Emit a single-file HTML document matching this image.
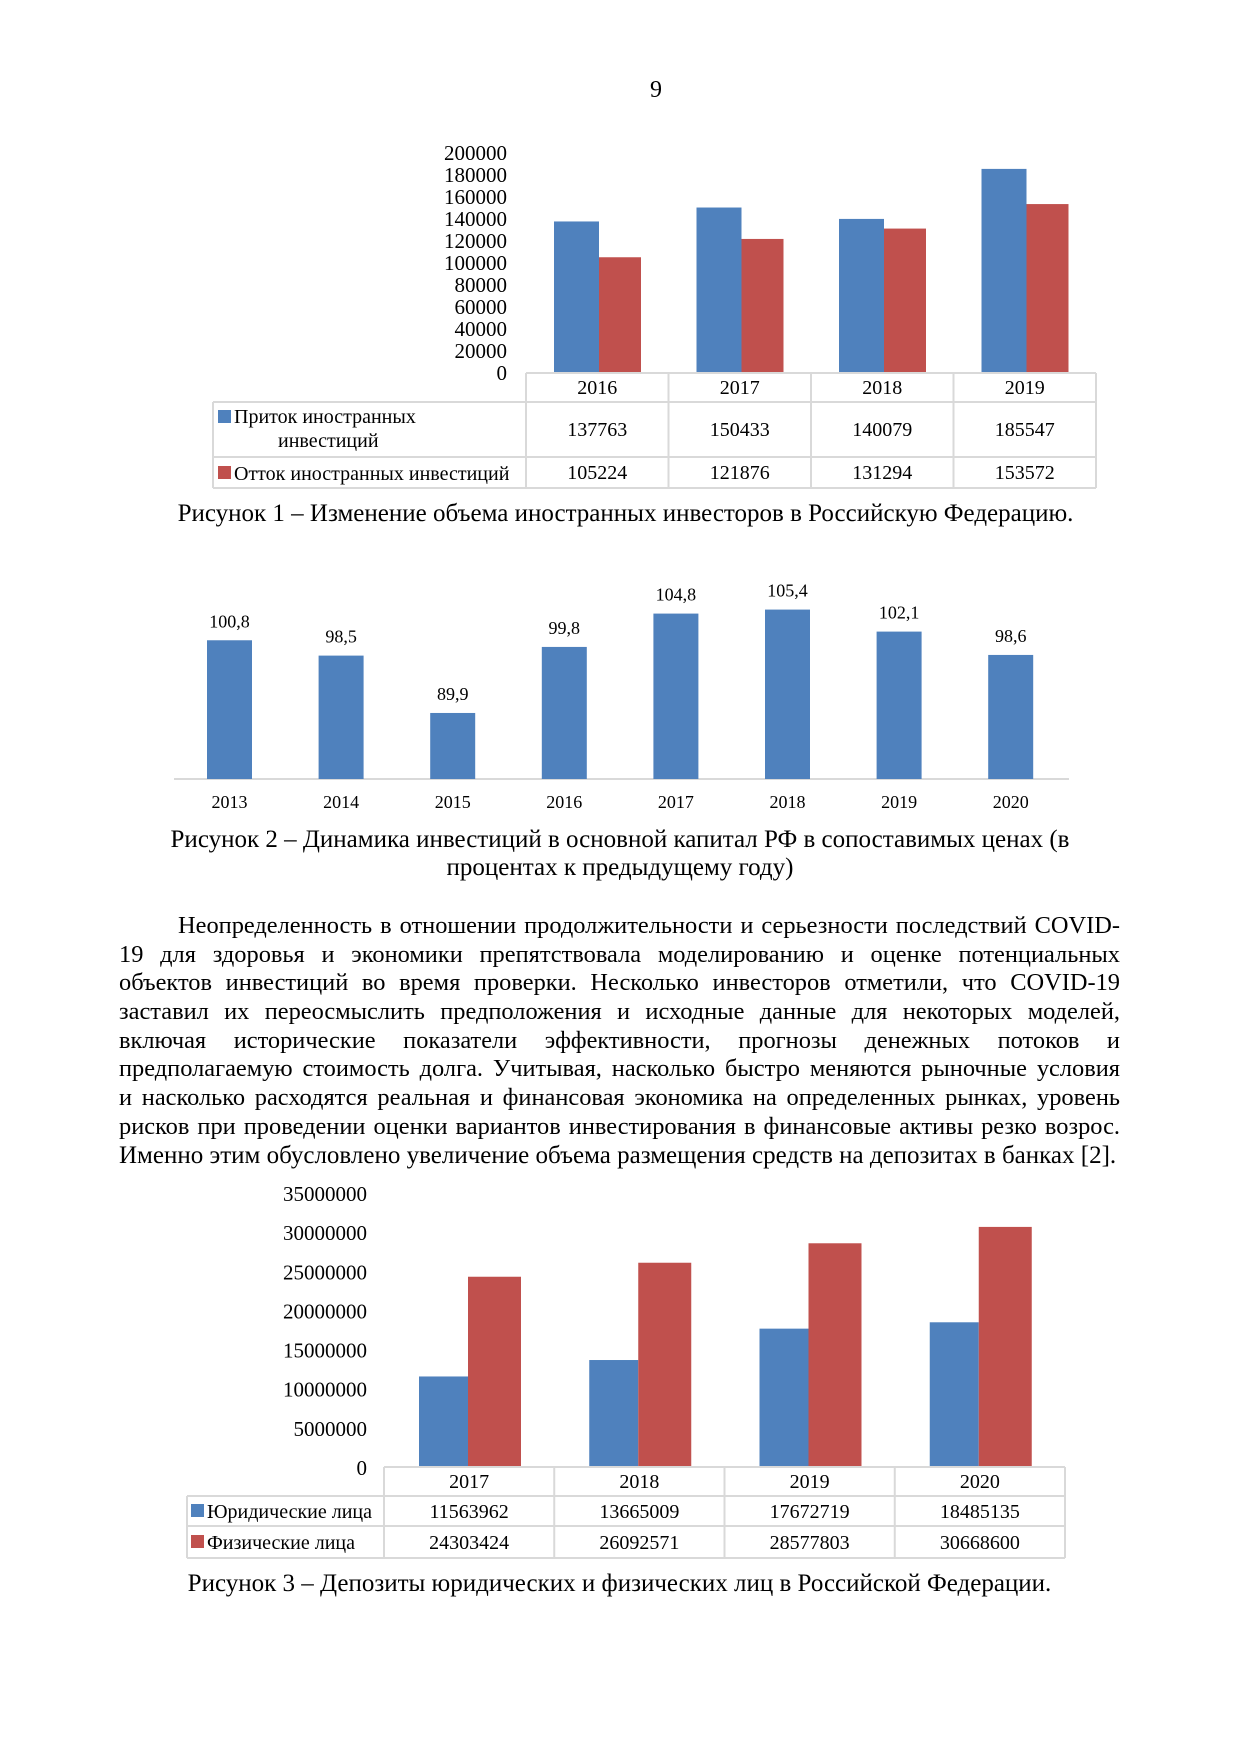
<!DOCTYPE html>
<html><head><meta charset="utf-8"><style>
body{margin:0;background:#fff;}
#page{position:relative;width:1241px;height:1754px;background:#fff;font-family:"Liberation Serif","Noto Serif CJK SC",serif;color:#000;overflow:hidden;}
.abs{position:absolute;}
#body-text{left:119px;top:912px;width:1001px;font-size:24.4px;line-height:28.7px;}
#body-text .ln{text-align:justify;text-align-last:justify;height:28.7px;overflow:visible;}
#body-text .last{text-align:left;text-align-last:left;font-size:25px;}
.cap{position:absolute;font-size:25px;text-align:center;white-space:nowrap;}
svg text{font-family:"Liberation Serif",serif;fill:#000;}
</style></head><body>
<div id="page">
<div class="abs" style="left:650px;top:77px;font-size:24px">9</div>
<svg id="chart1" class="abs" style="left:0;top:0" width="1241" height="1754"></svg>
<div class="cap" style="left:0;width:1251px;top:500px">Рисунок 1 – Изменение объема иностранных инвесторов в Российскую Федерацию.</div>
<div class="cap" style="left:0;width:1240px;top:826px;line-height:28px">Рисунок 2 – Динамика инвестиций в основной капитал РФ в сопоставимых ценах (в<br>процентах к предыдущему году)</div>
<div id="body-text" class="abs">
<div class="ln" style="padding-left:59px">Неопределенность в отношении продолжительности и серьезности последствий COVID-</div>
<div class="ln">19 для здоровья и экономики препятствовала моделированию и оценке потенциальных</div>
<div class="ln">объектов инвестиций во время проверки. Несколько инвесторов отметили, что COVID-19</div>
<div class="ln">заставил их переосмыслить предположения и исходные данные для некоторых моделей,</div>
<div class="ln">включая исторические показатели эффективности, прогнозы денежных потоков и</div>
<div class="ln">предполагаемую стоимость долга. Учитывая, насколько быстро меняются рыночные условия</div>
<div class="ln">и насколько расходятся реальная и финансовая экономика на определенных рынках, уровень</div>
<div class="ln">рисков при проведении оценки вариантов инвестирования в финансовые активы резко возрос.</div>
<div class="ln last">Именно этим обусловлено увеличение объема размещения средств на депозитах в банках [2].</div>
</div>
<div class="cap" style="left:0;width:1239px;top:1570px">Рисунок 3 – Депозиты юридических и физических лиц в Российской Федерации.</div>
</div>
<script>
const c1Years=["2016","2017","2018","2019"];
const c1Inflow=[137763,150433,140079,185547];
const c1Outflow=[105224,121876,131294,153572];
const c1Ticks=[0,20000,40000,60000,80000,100000,120000,140000,160000,180000,200000];
const c2Years=["2013","2014","2015","2016","2017","2018","2019","2020"];
const c2Values=[100.8,98.5,89.9,99.8,104.8,105.4,102.1,98.6];
const c3Years=["2017","2018","2019","2020"];
const c3Legal=[11563962,13665009,17672719,18485135];
const c3Physical=[24303424,26092571,28577803,30668600];
const c3Ticks=[0,5000000,10000000,15000000,20000000,25000000,30000000,35000000];
const BLUE="#4f81bd",RED="#c0504d",GRID="#d9d9d9";
const svg=document.getElementById('chart1');
const NS="http://www.w3.org/2000/svg";
function mk(tag,attrs,name,parent){const e=document.createElementNS(NS,tag);for(const k in attrs)e.setAttribute(k,attrs[k]);


(parent||svg).appendChild(e);return e;}
function txt(x,y,s,size,anchor,name){const t=mk('text',{x:x,y:y,'font-size':size,'text-anchor':anchor||'middle'},name);t.textContent=s;return t;}
function fmt(v){return String(v).replace('.',',');}

// Chart 1
(function(){
 const base=373,top=153,max=200000,left=526,right=1096,colW=(right-left)/4;
 const y=v=>base-(v/max)*(base-top);
 c1Ticks.forEach(t=>txt(507,y(t)+7,String(t),21,'end','y-tick-label'));
 c1Years.forEach((yr,i)=>{
  const x0=left+i*colW;
  mk('rect',{x:x0+28,y:y(c1Inflow[i]),width:45,height:base-y(c1Inflow[i]),fill:BLUE},'bar-inflow-'+yr);
  mk('rect',{x:x0+73,y:y(c1Outflow[i]),width:42,height:base-y(c1Outflow[i]),fill:RED},'bar-outflow-'+yr);
  txt(x0+colW/2,394,yr,20,'middle','year-header');
  txt(x0+colW/2,436,String(c1Inflow[i]),20,'middle','inflow-value');
  txt(x0+colW/2,479,String(c1Outflow[i]),20,'middle','outflow-value');
 });
 const g={stroke:GRID,'stroke-width':2,fill:'none'};
 mk('line',Object.assign({x1:left,y1:373,x2:right,y2:373},g),'table-line');
 [402,457,488].forEach(yy=>mk('line',Object.assign({x1:213,y1:yy,x2:right,y2:yy},g),'table-line'));
 for(let i=0;i<=4;i++)mk('line',Object.assign({x1:left+i*colW,y1:373,x2:left+i*colW,y2:488},g),'table-line');
 mk('line',Object.assign({x1:213,y1:402,x2:213,y2:488},g),'table-line');
 mk('rect',{x:218,y:410,width:13,height:13,fill:BLUE},'legend-inflow-swatch');
 txt(234,423,'Приток иностранных',20,'start','legend-inflow');
 txt(278,447,'инвестиций',20,'start','legend-inflow-2');
 mk('rect',{x:218,y:466,width:13,height:13,fill:RED},'legend-outflow-swatch');
 txt(234,480,'Отток иностранных инвестиций',20,'start','legend-outflow');
})();

// Chart 2
(function(){
 const base=779,minV=80,pxPer=6.67,first=229.5,step=111.6,bw=45;
 const y=v=>base-(v-minV)*pxPer;
 mk('line',{x1:174,y1:base,x2:1069,y2:base,stroke:GRID,'stroke-width':2},'x-axis');
 c2Years.forEach((yr,i)=>{
  const cx=first+i*step;
  mk('rect',{x:cx-bw/2,y:y(c2Values[i]),width:bw,height:base-y(c2Values[i]),fill:BLUE},'bar-'+yr);
  txt(cx,y(c2Values[i])-13,fmt(c2Values[i]),18,'middle','value-label');
  txt(cx,808,yr,18,'middle','x-tick-label');
 });
})();

// Chart 3
(function(){
 const base=1467,top=1193,max=35000000,left=384,right=1065,colW=(right-left)/4;
 const y=v=>base-(v/max)*(base-top);
 c3Ticks.forEach(t=>txt(367,y(t)+8,String(t),21,'end','y-tick-label'));
 c3Years.forEach((yr,i)=>{
  const x0=left+i*colW;
  mk('rect',{x:x0+35,y:y(c3Legal[i]),width:49,height:base-y(c3Legal[i]),fill:BLUE},'bar-legal-'+yr);
  mk('rect',{x:x0+84,y:y(c3Physical[i]),width:53,height:base-y(c3Physical[i]),fill:RED},'bar-physical-'+yr);
  txt(x0+colW/2,1488,yr,20,'middle','year-header');
  txt(x0+colW/2,1518,String(c3Legal[i]),20,'middle','legal-value');
  txt(x0+colW/2,1549,String(c3Physical[i]),20,'middle','physical-value');
 });
 const g={stroke:GRID,'stroke-width':2,fill:'none'};
 mk('line',Object.assign({x1:left,y1:1467,x2:right,y2:1467},g),'table-line');
 [1496,1526,1558].forEach(yy=>mk('line',Object.assign({x1:187,y1:yy,x2:right,y2:yy},g),'table-line'));
 for(let i=0;i<=4;i++)mk('line',Object.assign({x1:left+i*colW,y1:1467,x2:left+i*colW,y2:1558},g),'table-line');
 mk('line',Object.assign({x1:187,y1:1496,x2:187,y2:1558},g),'table-line');
 mk('rect',{x:191,y:1504,width:13,height:13,fill:BLUE},'legend-legal-swatch');
 txt(207,1518,'Юридические лица',20,'start','legend-legal');
 mk('rect',{x:191,y:1535,width:13,height:13,fill:RED},'legend-physical-swatch');
 txt(207,1549,'Физические лица',20,'start','legend-physical');
})();
</script>
</body></html>
